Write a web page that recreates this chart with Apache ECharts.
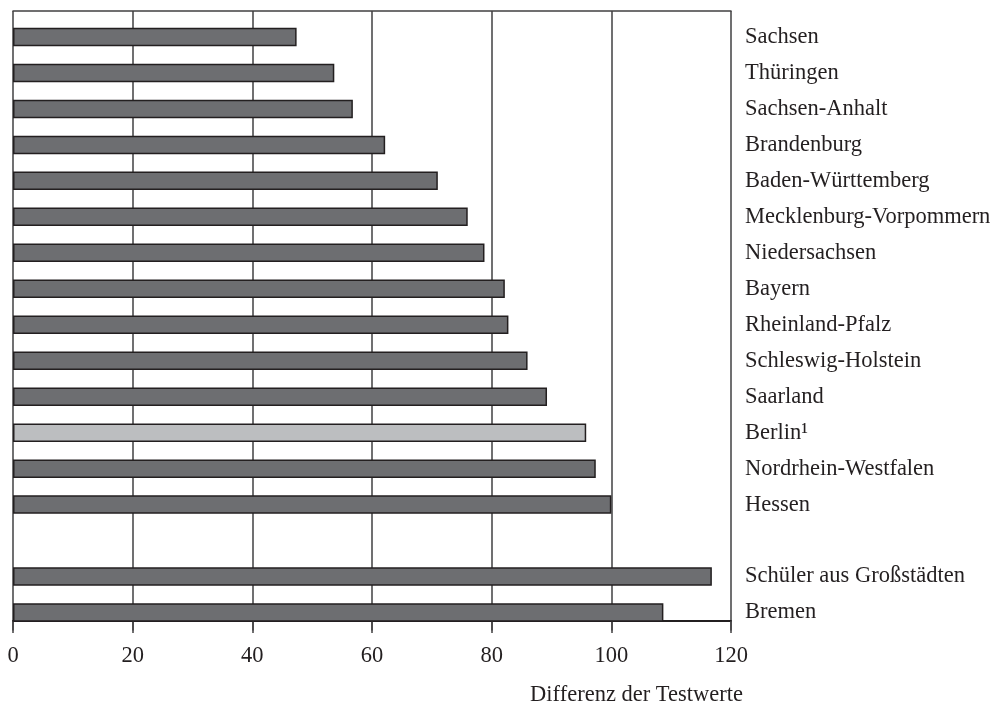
<!DOCTYPE html>
<html>
<head>
<meta charset="utf-8">
<script src="https://cdn.jsdelivr.net/npm/echarts@6/dist/echarts.min.js"></script>
<style>html,body{margin:0;padding:0;background:#fff}#c{width:1002px;height:703px}</style>
</head>
<body>
<div id="c"></div>
<script>
const categories = ['Sachsen','Thüringen','Sachsen-Anhalt','Brandenburg','Baden-Württemberg','Mecklenburg-Vorpommern','Niedersachsen','Bayern','Rheinland-Pfalz','Schleswig-Holstein','Saarland','Berlin¹','Nordrhein-Westfalen','Hessen','','Schüler aus Großstädten','Bremen'];
const values = [47.4, 53.7, 56.8, 62.2, 71.0, 76.0, 78.8, 82.2, 82.8, 86.0, 89.25, 95.8, 97.4, 100, null, 116.8, 108.7];
const highlighted = 'Berlin¹';
const xTicks = [0, 20, 40, 60, 80, 100, 120];
const axisTitle = 'Differenz der Testwerte';

const FONT = 'Liberation Serif';
const TXT = '#231f20';
const GRID = '#414042';

const chart = echarts.init(document.getElementById('c'));
chart.setOption({
  animation: false,
  backgroundColor: '#fff',
  title: {
    text: axisTitle, right: 259, top: 684, padding: 0,
    textStyle: {fontFamily: FONT, fontSize: 22.5, fontWeight: 'normal', color: TXT}
  },
  grid: {left: 13, right: 271, top: 19, bottom: 72.5, containLabel: false, outerBoundsMode: 'none'},
  xAxis: [{
    type: 'value', position: 'bottom', offset: -9.5,
    min: xTicks[0], max: xTicks[xTicks.length - 1], interval: 20,
    axisLine: {show: true, lineStyle: {color: TXT, width: 2}},
    axisTick: {show: true, length: 12, lineStyle: {color: GRID, width: 1.5}},
    axisLabel: {margin: 24, fontFamily: FONT, fontSize: 22.5, color: TXT},
    splitLine: {show: true, lineStyle: {color: GRID, width: 1.5}}
  }, {
    type: 'value', position: 'top', offset: 8,
    min: xTicks[0], max: xTicks[xTicks.length - 1], interval: 20,
    axisLine: {show: true, lineStyle: {color: GRID, width: 1.5}},
    axisTick: {show: true, inside: true, length: 8, lineStyle: {color: GRID, width: 1.5}},
    axisLabel: {show: false},
    splitLine: {show: false}
  }],
  yAxis: {
    type: 'category', data: categories, inverse: true, position: 'right',
    axisLine: {show: false}, axisTick: {show: false},
    axisLabel: {margin: 14, fontFamily: FONT, fontSize: 22.5, color: TXT, interval: 0}
  },
  series: [{
    type: 'bar', barWidth: 18.5,
    data: values.map((v, i) => ({
      value: v,
      itemStyle: {color: categories[i] === highlighted ? '#bcbec0' : '#6d6e71'}
    })),
    itemStyle: {borderColor: TXT, borderWidth: 1.5}
  }]
});
</script>
</body>
</html>
